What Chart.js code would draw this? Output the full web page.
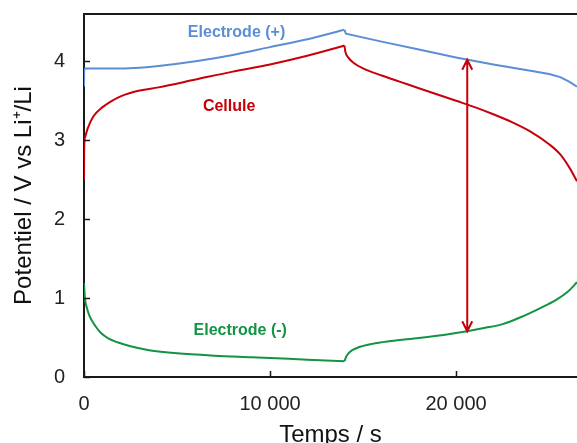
<!DOCTYPE html>
<html lang="fr">
<head>
<meta charset="UTF-8">
<title>Potentiel vs temps</title>
<script src="https://cdn.jsdelivr.net/npm/chart.js"></script>
<style>
    * { margin: 0; padding: 0; }
    body { background: #fff; width: 577px; height: 443px; overflow: hidden; }
    #wrap { position: relative; width: 577px; height: 443px; }
</style>
</head>
<body>
<div id="wrap"><canvas id="chart"></canvas></div>
<script>
    // Electrode (+), charge then discharge
    const posChargeTime = [0, 10, 60, 1000, 2000, 3000, 4000, 6000, 8000, 10000, 12000, 14000];
    const posChargeVolt = [3.68, 3.88, 3.91, 3.91, 3.91, 3.92, 3.94, 4.00, 4.08, 4.18, 4.28, 4.40];
    const posDischTime = [14000, 14080, 16000, 18000, 20000, 22000, 24000, 25000, 25600, 26100, 26500];
    const posDischVolt = [4.40, 4.35, 4.25, 4.15, 4.05, 3.96, 3.88, 3.84, 3.80, 3.74, 3.68];

    // Cellule
    const cellChargeTime = [0, 10, 60, 200, 500, 1000, 1500, 2000, 3000, 4000, 6000, 8000, 10000, 12000, 14000];
    const cellChargeVolt = [2.50, 2.90, 3.04, 3.15, 3.30, 3.42, 3.50, 3.56, 3.63, 3.67, 3.77, 3.87, 3.96, 4.07, 4.20];
    const cellDischTime = [14000, 14050, 14200, 14500, 15000, 16000, 17000, 18000, 19000, 20000, 21000, 22000, 23000, 24000, 25000, 25600, 26100, 26500];
    const cellDischVolt = [4.20, 4.12, 4.05, 3.98, 3.91, 3.82, 3.74, 3.66, 3.58, 3.50, 3.42, 3.33, 3.23, 3.11, 2.95, 2.82, 2.65, 2.48];

    // Electrode (-)
    const negChargeTime = [0, 50, 150, 300, 600, 900, 1300, 1800, 2500, 3500, 5000, 7000, 9000, 11000, 13000, 14000];
    const negChargeVolt = [1.19, 1.00, 0.88, 0.77, 0.65, 0.56, 0.49, 0.44, 0.39, 0.34, 0.30, 0.27, 0.25, 0.23, 0.21, 0.20];
    const negDischTime = [14000, 14100, 14300, 14700, 15500, 16500, 18000, 19500, 20600, 21500, 22500, 23500, 24500, 25400, 26000, 26500];
    const negDischVolt = [0.20, 0.26, 0.32, 0.37, 0.42, 0.455, 0.495, 0.54, 0.58, 0.62, 0.67, 0.76, 0.87, 0.98, 1.08, 1.20];

    const xTicks = [0, 10000, 20000];
    const yTicks = [0, 1, 2, 3, 4];

    // double arrow between the electrodes
    const arrowTime = 20600;
    const arrowTop = 4.02;
    const arrowBottom = 0.58;

    const blue = '#5b8ed4';
    const red = '#c8000a';
    const green = '#139444';
    const axisColor = '#1a1a1a';

    const labels = [
        { text: 'Electrode (+)', t: 8200, v: 4.36, color: blue },
        { text: 'Cellule', t: 7800, v: 3.43, color: red },
        { text: 'Electrode (-)', t: 8400, v: 0.59, color: green }
    ];

    function toPoints(ts, vs) {
        return ts.map((t, i) => ({ x: t, y: vs[i] }));
    }

    function curve(ts, vs, color, smooth) {
        const ds = {
            data: toPoints(ts, vs),
            borderColor: color,
            borderWidth: 2,
            pointRadius: 0,
            fill: false
        };
        if (smooth) ds.cubicInterpolationMode = 'monotone';
        else ds.tension = 0;
        return ds;
    }

    function spaced(v) {
        return String(v).replace(/\B(?=(\d{3})+(?!\d))/g, ' ');
    }

    const overlay = {
        id: 'overlay',
        afterDraw(chart) {
            const { ctx, chartArea: a, scales: { x, y } } = chart;
            ctx.save();

            // top frame line
            ctx.strokeStyle = axisColor;
            ctx.lineWidth = 2;
            ctx.beginPath();
            ctx.moveTo(a.left - 1, a.top);
            ctx.lineTo(a.right, a.top);
            ctx.stroke();

            // inward ticks
            ctx.lineWidth = 1.5;
            ctx.beginPath();
            xTicks.forEach(t => {
                const px = Math.round(x.getPixelForValue(t)) + 0.5;
                ctx.moveTo(px, a.bottom);
                ctx.lineTo(px, a.bottom - 6);
            });
            yTicks.forEach(v => {
                const py = Math.round(y.getPixelForValue(v)) + 0.5;
                ctx.moveTo(a.left, py);
                ctx.lineTo(a.left + 6, py);
            });
            ctx.stroke();

            // arrow
            const ax = x.getPixelForValue(arrowTime);
            const y1 = y.getPixelForValue(arrowTop);
            const y2 = y.getPixelForValue(arrowBottom);
            ctx.strokeStyle = red;
            ctx.lineWidth = 2;
            ctx.beginPath();
            ctx.moveTo(ax, y1);
            ctx.lineTo(ax, y2);
            ctx.moveTo(ax - 5, y1 + 10);
            ctx.lineTo(ax, y1);
            ctx.lineTo(ax + 5, y1 + 10);
            ctx.moveTo(ax - 5, y2 - 10);
            ctx.lineTo(ax, y2);
            ctx.lineTo(ax + 5, y2 - 10);
            ctx.stroke();

            // curve labels
            ctx.font = 'bold 16px "Liberation Sans", Arial, sans-serif';
            ctx.textAlign = 'center';
            ctx.textBaseline = 'middle';
            labels.forEach(l => {
                ctx.fillStyle = l.color;
                ctx.fillText(l.text, x.getPixelForValue(l.t), y.getPixelForValue(l.v));
            });

            ctx.restore();
        }
    };

    new Chart(document.getElementById('chart'), {
        type: 'line',
        data: {
            datasets: [
                curve(posChargeTime, posChargeVolt, blue, true),
                curve(posDischTime, posDischVolt, blue, false),
                curve(cellChargeTime, cellChargeVolt, red, true),
                curve(cellDischTime, cellDischVolt, red, true),
                curve(negChargeTime, negChargeVolt, green, true),
                curve(negDischTime, negDischVolt, green, true)
            ]
        },
        options: {
            responsive: true,
            maintainAspectRatio: false,
            animation: false,
            layout: { padding: { top: 14, right: 0, bottom: 0, left: 0 } },
            plugins: {
                legend: { display: false },
                tooltip: { enabled: false }
            },
            scales: {
                x: {
                    type: 'linear',
                    min: 0,
                    max: 26500,
                    afterBuildTicks: s => { s.ticks = xTicks.map(v => ({ value: v })); },
                    afterFit: s => { s.height = 66; s.paddingLeft = 0; s.paddingRight = 0; },
                    grid: { display: false, drawTicks: false },
                    border: { display: true, color: axisColor, width: 2 },
                    ticks: {
                        padding: 15,
                        maxRotation: 0,
                        color: '#222',
                        font: { family: '"Liberation Sans", Arial, sans-serif', size: 20 },
                        callback: v => spaced(v)
                    },
                    title: {
                        display: true,
                        text: 'Temps / s',
                        color: '#111',
                        padding: { top: 0, bottom: -7 },
                        font: { family: '"Liberation Sans", Arial, sans-serif', size: 24 }
                    }
                },
                y: {
                    min: 0,
                    max: 4.6,
                    afterBuildTicks: s => { s.ticks = yTicks.map(v => ({ value: v })); },
                    afterFit: s => { s.width = 84; s.paddingTop = 0; s.paddingBottom = 0; },
                    grid: { display: false, drawTicks: false },
                    border: { display: true, color: axisColor, width: 2 },
                    ticks: {
                        padding: 19,
                        color: '#222',
                        font: { family: '"Liberation Sans", Arial, sans-serif', size: 20 }
                    },
                    title: {
                        display: true,
                        text: 'Potentiel / V vs Li⁺/Li',
                        color: '#111',
                        padding: { top: 10, bottom: 0 },
                        font: { family: '"Liberation Sans", Arial, sans-serif', size: 24 }
                    }
                }
            }
        },
        plugins: [overlay]
    });
</script>
</body>
</html>
